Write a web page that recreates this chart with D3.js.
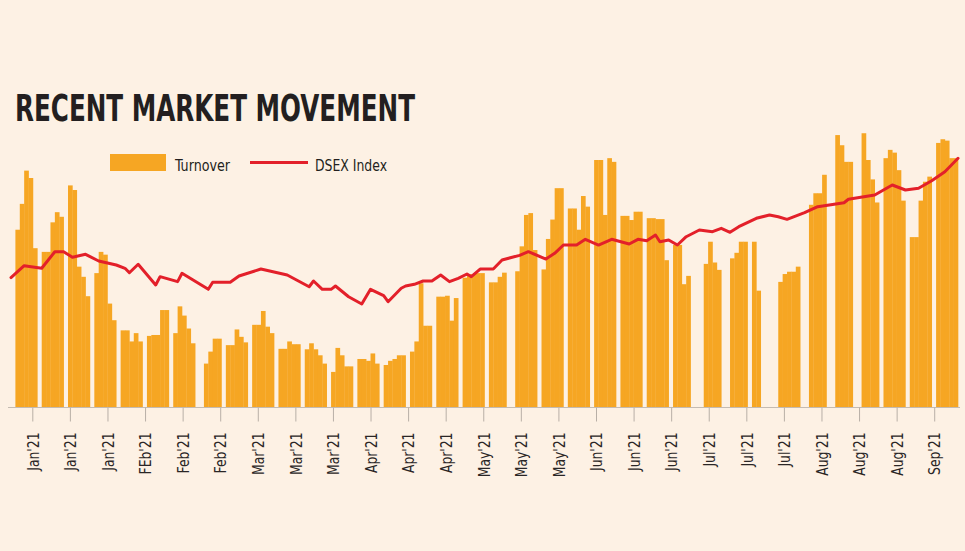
<!DOCTYPE html>
<html>
<head>
<meta charset="utf-8">
<script src="https://cdn.jsdelivr.net/npm/d3@7"></script>
<style>
  body { margin: 0; background: #fdf1e4; }
  svg { display: block; }
</style>
</head>
<body>
<script>
// tick labels, one every 10 calendar days (typo kept from the original)
var tickLabels = ["Jan'21","Jan'21","Jan'21","FEb'21","Feb'21","Feb'21","Mar'21","Mar'21","Mar'21",
                  "Apr'21","Apr'21","Apr'21","May'21","May'21","May'21","Jun'21","Jun'21","Jun'21",
                  "Jul'21","Jul'21","Jul'21","Aug'21","Aug'21","Aug'21","Sep'21"];

// daily turnover (Tk crore), one row per Sun-Thu trading week starting 3 Jan 2021; null = no trading
var turnoverWeeks = [
  [1920, 2200, 2560, 2480, 1720],
  [1680, 1680, 2000, 2110, 2060],
  [2400, 2350, 1520, 1410, 1200],
  [1450, 1680, 1650, 1120, 940],
  [830, 830, 710, 800, 710],
  [770, 780, 780, 1050, 1050],
  [800, 1090, 990, 850, 690],
  [null, 470, 600, 740, 740],
  [670, 670, 840, 760, 700],
  [890, 890, 1040, 870, 800],
  [630, 630, 710, 680, 680],
  [625, 690, 625, 560, 470],
  [380, 640, 560, 440, 440],
  [520, 520, 500, 580, 470],
  [455, 500, 520, 560, 560],
  [600, 710, 1340, 880, 880],
  [1195, 1195, 1205, 935, 1180],
  [1400, 1440, 1440, 1450, 1450],
  [1350, 1350, 1410, 1455, null],
  [1470, 1740, 2080, 2100, 1700],
  [1490, 1820, 2030, 2370, 2370],
  [2150, 2150, 1920, 2285, 2170],
  [2675, 2675, 2080, 2695, 2655],
  [2070, 2070, 2025, 2115, 2115],
  [2045, 2045, 2035, 2035, 1590],
  [1755, 1755, 1330, 1420, null],
  [null, 1550, 1790, 1565, 1485],
  [null, 1610, 1670, 1790, 1790],
  [1790, 1260, null, null, null],
  [1355, 1440, 1465, 1465, 1520],
  [null, 2190, 2315, 2315, 2515],
  [null, 2945, 2835, 2655, 2655],
  [null, 2965, 2675, 2465, 2215],
  [2695, 2785, 2755, 2565, 2235],
  [1840, 1840, 2235, 2440, 2495],
  [2860, 2900, 2885, 2695, 2695]
];

// DSEX index: position in trading slots (6 per week) and value
var dsexPos = [-1, 2, 6, 9, 11, 13, 16, 19, 23, 25, 26, 28, 32, 33, 37, 38, 44, 45, 49, 51,
               56, 62, 67, 68, 70, 72, 73, 76, 79, 81, 84, 85, 88, 89, 91, 93, 95, 97, 99, 101,
               103, 104, 106, 109, 111, 115, 117, 121, 123, 125, 128, 130, 133, 136, 140, 142, 144, 146, 147, 149,
               151, 153, 156, 159, 161, 163, 165, 169, 172, 174, 176, 180, 183, 189, 190, 196, 200, 203, 206, 209,
               212, 215];
var dsexValue = [5495, 5678, 5638, 5894, 5894, 5808, 5854, 5751, 5689, 5638, 5570, 5700, 5381, 5509, 5432, 5561, 5314, 5422, 5422, 5519,
                 5627, 5535, 5354, 5442, 5314, 5314, 5365, 5200, 5088, 5314, 5216, 5123, 5330, 5365, 5391, 5442, 5442, 5535, 5432, 5484,
                 5550, 5509, 5627, 5627, 5766, 5838, 5894, 5781, 5869, 5997, 5997, 6085, 5997, 6085, 6013, 6085, 6063, 6151, 6048, 6074,
                 5997, 6125, 6228, 6202, 6255, 6193, 6279, 6409, 6460, 6433, 6393, 6495, 6588, 6649, 6702, 6768, 6922, 6845, 6871, 6988,
                 7127, 7334];

var W = 965, H = 551;
var FONT = "'Liberation Sans Narrow','DejaVu Sans Condensed',sans-serif";
var ORANGE = "#f6a623", RED = "#e3202a";

var svg = d3.select("body").append("svg").attr("width", W).attr("height", H);
svg.append("rect").attr("width", W).attr("height", H).attr("fill", "#fdf1e4");

// 36 weeks x 6 slots (5 trading days + 1 gap); same span in calendar days for the ticks
var x = d3.scaleLinear().domain([0, 216]).range([15.4, 962.4]);
var xDay = d3.scaleLinear().domain([0, 252]).range([15.4, 962.4]);
var yTurn = d3.scaleLinear().domain([0, 3000]).range([407, 130]);
var yIdx = d3.scaleLinear().domain([3500, 7770]).range([407, 130]);

var bars = [];
turnoverWeeks.forEach(function(wk, w) {
  wk.forEach(function(v, d) { if (v != null) bars.push({slot: w * 6 + d, v: v}); });
});

svg.selectAll("rect.bar")
    .data(bars)
    .enter().append("rect")
      .attr("class", "bar")
      .attr("x", function(d) { return x(d.slot); })
      .attr("width", function(d) { return x(d.slot + 1) - x(d.slot) + 0.3; })
      .attr("y", function(d) { return yTurn(d.v); })
      .attr("height", function(d) { return yTurn(0) - yTurn(d.v); })
      .attr("fill", ORANGE);

// axis
svg.append("line")
    .attr("x1", 8).attr("x2", 960)
    .attr("y1", yTurn(0) + 0.5).attr("y2", yTurn(0) + 0.5)
    .attr("stroke", "#c4bbb2").attr("stroke-width", 1);

var tickDays = tickLabels.map(function(d, i) { return 4.5 + i * 10; });
var xAxis = d3.axisBottom(xDay)
    .tickValues(tickDays)
    .tickSize(14)
    .tickSizeOuter(0)
    .tickFormat(function(d, i) { return tickLabels[i]; });

var gx = svg.append("g")
    .attr("transform", "translate(0," + (yTurn(0) + 0.5) + ")")
    .call(xAxis);
gx.select(".domain").remove();
gx.selectAll(".tick line").attr("stroke", "#b8afa6");
gx.selectAll(".tick text")
    .attr("transform", "rotate(-90)")
    .attr("x", -25)
    .attr("y", 0)
    .attr("dy", "0.36em")
    .style("text-anchor", "end")
    .style("font-family", FONT)
    .style("font-size", "16px")
    .attr("fill", "#2a2626")
    .each(function() {
      // squeeze to a condensed look
      var len = this.getComputedTextLength();
      d3.select(this).attr("textLength", len * 0.86).attr("lengthAdjust", "spacingAndGlyphs");
    });

// DSEX line
var line = d3.line()
    .x(function(d, i) { return x(dsexPos[i]); })
    .y(function(d) { return yIdx(d); });

svg.append("path")
    .datum(dsexValue)
    .attr("d", line)
    .attr("fill", "none")
    .attr("stroke", RED)
    .attr("stroke-width", 3)
    .attr("stroke-linejoin", "round")
    .attr("stroke-linecap", "round");

// title
svg.append("text")
    .attr("x", 15).attr("y", 121)
    .attr("textLength", 400)
    .attr("lengthAdjust", "spacingAndGlyphs")
    .style("font-family", FONT)
    .style("font-weight", "bold")
    .style("font-size", "38px")
    .attr("fill", "#231f20")
    .text("RECENT MARKET MOVEMENT");

// legend
svg.append("rect")
    .attr("x", 110).attr("y", 154).attr("width", 56).attr("height", 17)
    .attr("fill", ORANGE);
svg.append("text")
    .attr("x", 175).attr("y", 171)
    .attr("textLength", 55).attr("lengthAdjust", "spacingAndGlyphs")
    .style("font-family", FONT).style("font-size", "16px")
    .attr("fill", "#231f20")
    .text("Turnover");
svg.append("line")
    .attr("x1", 250).attr("x2", 308).attr("y1", 162.5).attr("y2", 162.5)
    .attr("stroke", RED).attr("stroke-width", 3);
svg.append("text")
    .attr("x", 315).attr("y", 171)
    .attr("textLength", 72).attr("lengthAdjust", "spacingAndGlyphs")
    .style("font-family", FONT).style("font-size", "16px")
    .attr("fill", "#231f20")
    .text("DSEX Index");
</script>
</body>
</html>
